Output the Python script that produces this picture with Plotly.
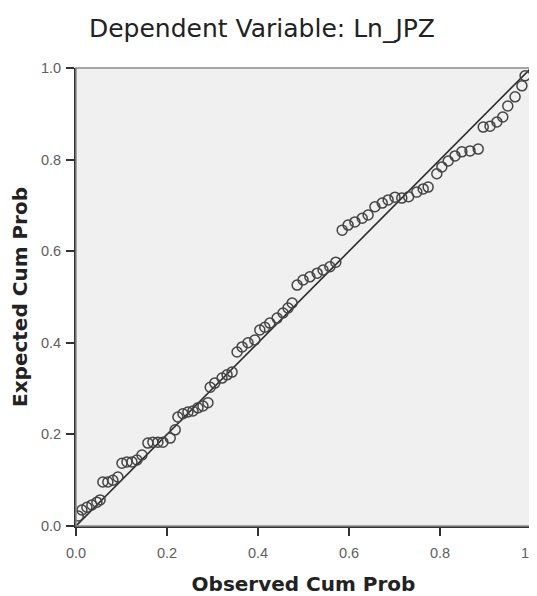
import plotly.graph_objects as go

# Observed cumulative probability (x) and expected cumulative probability (y)
observed = [0.005, 0.013, 0.024, 0.035, 0.046, 0.053, 0.059, 0.070, 0.081, 0.092,
            0.101, 0.112, 0.123, 0.134, 0.145, 0.158, 0.169, 0.180, 0.191, 0.207,
            0.218, 0.224, 0.235, 0.246, 0.257, 0.268, 0.279, 0.290,
            0.295, 0.305, 0.321, 0.332, 0.343, 0.354, 0.365, 0.378, 0.393, 0.404,
            0.415, 0.426, 0.442, 0.455, 0.466, 0.475,
            0.486, 0.499, 0.514, 0.530, 0.543, 0.558, 0.571,
            0.585, 0.598, 0.613, 0.629, 0.642, 0.657, 0.673, 0.686, 0.701, 0.716,
            0.731, 0.749, 0.763, 0.774, 0.793, 0.804, 0.818, 0.833, 0.848, 0.866,
            0.884, 0.895, 0.910, 0.925, 0.938, 0.949, 0.965, 0.980, 0.987]
expected = [0.022, 0.035, 0.041, 0.046, 0.052, 0.057, 0.096, 0.096, 0.100, 0.107,
            0.137, 0.140, 0.140, 0.144, 0.155, 0.181, 0.183, 0.183, 0.183, 0.192,
            0.210, 0.238, 0.245, 0.249, 0.251, 0.258, 0.262, 0.269,
            0.303, 0.312, 0.323, 0.330, 0.336, 0.380, 0.391, 0.400, 0.406, 0.428,
            0.434, 0.443, 0.454, 0.465, 0.476, 0.487,
            0.526, 0.537, 0.544, 0.552, 0.559, 0.566, 0.576,
            0.646, 0.657, 0.664, 0.672, 0.679, 0.697, 0.705, 0.712, 0.718, 0.716,
            0.719, 0.729, 0.736, 0.740, 0.769, 0.784, 0.797, 0.808, 0.817, 0.819,
            0.823, 0.871, 0.873, 0.882, 0.893, 0.917, 0.937, 0.961, 0.983]

ref_x = [0.0, 1.0]
ref_y = [0.0, 1.0]

tick_vals = [0.0, 0.2, 0.4, 0.6, 0.8, 1.0]
tick_text = ["0.0", "0.2", "0.4", "0.6", "0.8", "1.0"]

# the page body adds an 8 px offset, so the figure is sized to fit the window
W, H = 529, 588

fig = go.Figure()
fig.add_trace(go.Scatter(x=ref_x, y=ref_y, mode="lines",
                         line=dict(color="#2a2a2a", width=1.6),
                         hoverinfo="skip", showlegend=False, cliponaxis=False))
fig.add_trace(go.Scatter(x=observed, y=expected, mode="markers",
                         marker=dict(symbol="circle-open", size=10,
                                     color="#444444", line=dict(width=1.5)),
                         showlegend=False))

fig.add_shape(type="rect", xref="x domain", yref="y domain", x0=0, y0=0, x1=1, y1=1,
              line=dict(color="#8a8a8a", width=1.5), layer="above")

axis_common = dict(range=[0, 1], tickvals=tick_vals, ticktext=tick_text,
                   showgrid=False, zeroline=False, showline=True,
                   linecolor="#333333", linewidth=2, automargin=False,
                   ticklabeloverflow="allow",
                   ticks="outside", ticklen=8, tickwidth=1.5, tickcolor="#333333",
                   tickfont=dict(family="Liberation Sans", size=14.5, color="#5e5e5e"))

fig.update_layout(
    width=W, height=H,
    margin=dict(l=68, r=6, t=60, b=70),
    paper_bgcolor="white", plot_bgcolor="#f0f0f0",
    title=dict(text="Dependent Variable: Ln_JPZ", x=254 / W, xanchor="center",
               y=1 - 20 / H, yanchor="middle",
               font=dict(family="DejaVu Sans", size=25, color="#222222")),
    xaxis=dict(**axis_common, ticklabelstandoff=5,
               title=dict(text="<b>Observed Cum Prob</b>", standoff=22,
                          font=dict(family="DejaVu Sans", size=20, color="#222222"))),
    yaxis=dict(**axis_common, ticklabelstandoff=2,
               title=dict(text="<b>Expected Cum Prob</b>", standoff=10,
                          font=dict(family="DejaVu Sans", size=20, color="#222222"))),
)

fig.write_html("out.html")
